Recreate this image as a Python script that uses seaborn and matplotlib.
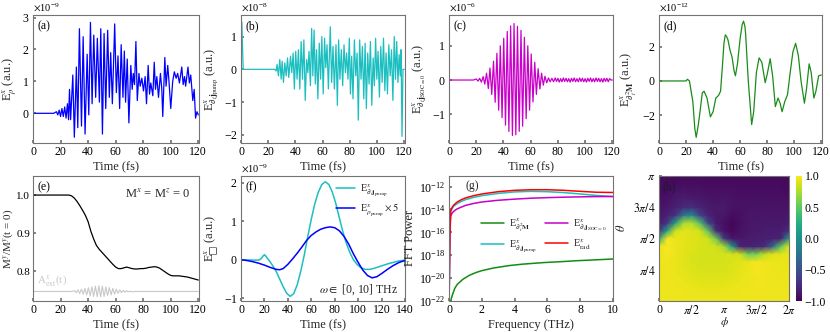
import numpy as np
import matplotlib
matplotlib.use("Agg")
import matplotlib.pyplot as plt
from matplotlib.ticker import NullLocator, FixedLocator
import seaborn as sns

# ---------------- data ----------------
# (a) E_rho^x  (units 1e-9)
a_time = [0, 15, 17, 18, 19, 20, 21, 22, 23, 24, 25, 25.8, 26.5, 27.3, 28.9, 30.0, 31.5, 32.5, 33.7, 35.2,
          36.4, 37.8, 39.3, 40.5, 41.7, 42.9, 44.1, 45.5, 46.7, 48.2, 49.2, 50.4, 51.6, 52.8, 54.2, 55.4, 56.4, 57.6, 59.3, 60.5,
          61.7, 62.9, 64.0, 65.3, 66.3, 67.2, 68.4, 69.6, 71.0, 72.0, 72.8, 73.7, 74.7, 75.7, 76.9, 77.8, 79.0, 80.2, 81.4, 82.4,
          83.6, 84.6, 85.5, 87.0, 88.0, 88.9, 89.9, 91.1, 92.5, 93.5, 94.2, 95.7, 96.6, 97.8, 98.8, 100.0, 101.4, 102.6, 103.9, 105.0,
          106.3, 108.0, 109.0, 110.0, 110.8, 112.5, 113.5, 114.5, 116.0, 117.0, 118.0, 119.0, 120.0]
a_val = [0, 0, 0.05, -0.05, 0.1, -0.1, 0.15, -0.1, 0.2, -0.15, 0.3, -0.2, 0.75, -0.2, 1.2, -0.75, 1.45, -0.45, 2.65, -0.4,
         2.4, -0.65, 1.85, -0.05, 2.85, 0.3, 2.45, 0.5, 2.35, 0.35, 2.65, -0.65, 2.5, 0.15, 2.6, 0.5, 1.9, 0.3, 2.8, 0.65,
         1.8, 0.15, 2.15, 0.5, 1.95, 0.35, 1.7, -0.3, 1.5, 0.75, 1.25, 0.9, 2.25, 0.4, 1.25, 0.85, 1.1, 0.7, 1.15, 0.3,
         1.5, 0.6, 0.95, 0.55, 1.6, 0.75, 1.15, 0.5, 1.25, 0.75, -0.1, 1.75, 0.85, 1.5, 0.95, 0.15, 1.0, 1.3, 1.1, 1.25,
         0.95, 1.45, 0.9, 1.15, 0.85, 1.45, 0.95, 1.2, 0.4, 0.75, -0.15, 0.05, -0.05]
a_scale = 1e-9

# (b) E_{dt j_pump}^x (units 1e-8)
b_time = [0, 0.6, 1.6, 25.0, 25.8, 26.5, 27.5, 28.5, 29.5, 30.2, 31.2, 32.2, 33.2, 34.2, 35.1, 36.4, 37.3, 38.3, 39.2, 40.2,
          41.2, 42.2, 43.2, 44.2, 45.2, 46.2, 47.2, 48.2, 49.1, 50.0, 51.0, 51.9, 52.8, 53.7, 54.6, 55.5, 56.5, 57.5, 58.5, 59.4,
          60.4, 61.4, 62.3, 63.2, 64.2, 65.6, 66.6, 67.6, 68.6, 69.8, 70.8, 71.7, 72.7, 73.7, 74.7, 75.7, 76.7, 77.6, 78.6, 79.6,
          80.4, 81.3, 82.3, 83.3, 84.3, 85.3, 86.2, 87.2, 88.2, 89.2, 90.2, 91.2, 92.1, 93.1, 94.1, 95.1, 96.1, 97.1, 98.0, 98.9,
          99.8, 100.7, 101.7, 102.7, 103.7, 104.7, 105.7, 106.6, 107.6, 108.6, 109.6, 110.6, 111.6, 112.6, 113.5, 114.4, 115.3, 116.2, 117.0, 117.6,
          118.3, 119.0, 120.0]
b_val = [0.3, 1.45, 0.0, 0.0, -0.05, 0.15, -0.2, 0.3, -0.3, 0.25, -0.4, 0.2, -0.2, 0.35, -0.25, 0.4, -0.1, 0.5, -0.6, 0.55,
         -0.3, 0.6, -0.6, 0.85, -0.3, 0.9, -0.95, 0.3, -0.1, 0.55, -0.5, 1.25, -0.2, 1.2, -0.45, 0.6, -0.9, 0.8, -0.3, 1.0,
         -0.75, 0.95, 0.05, 0.75, -0.6, 1.3, -0.4, 0.7, -0.6, 0.75, -1.1, 0.9, -0.3, 0.6, -0.5, 0.75, -0.1, 0.5, -0.3, 0.95,
         -0.75, 0.4, -0.9, 0.9, -0.2, 0.5, -1.55, 0.9, -0.3, 0.7, -0.9, 0.8, -1.2, 0.5, -0.45, 0.85, -1.1, 0.35, -0.5, 0.95,
         -0.3, 0.55, -0.85, 0.7, -0.4, 0.95, -0.65, 0.5, -0.75, 0.75, -0.2, 0.6, -0.95, 1.0, -0.3, 0.85, -0.4, 0.45, -0.2, 0.6,
         -2.05, 0.0, 0.0]
b_scale = 1e-8

# (c) E_{dt j_SOC=0}^x (units 1e-6)
c_time = [0, 18, 20.0, 21.3, 22.5, 23.8, 25.1, 26.3, 27.6, 28.9, 30.1, 31.4, 32.7, 33.9, 35.2, 36.5, 37.7, 39.0, 40.2, 41.5,
          42.8, 44.0, 45.3, 46.6, 47.8, 49.1, 50.3, 51.6, 52.9, 54.1, 55.4, 56.7, 57.9, 59.2, 60.4, 61.7, 63.0, 64.2, 65.5, 66.8,
          68.0, 69.3, 70.5, 71.8, 73.1, 74.3, 75.6, 76.8, 78.0, 79, 80, 81, 82, 83, 84, 85, 86, 87, 88, 89,
          90, 91, 92, 93, 94, 95, 96, 97, 98, 99, 100, 101, 102, 103, 104, 105, 106, 107, 108, 109,
          110, 111, 112, 113, 114, 115, 116, 117, 118, 119, 120]
c_val = [0, 0, 0.03, -0.03, 0.05, -0.06, 0.1, -0.12, 0.2, -0.25, 0.35, -0.42, 0.55, -0.65, 0.78, -0.88, 1.0, -1.1, 1.22, -1.32,
         1.42, -1.5, 1.58, -1.62, 1.65, -1.6, 1.57, -1.5, 1.45, -1.35, 1.25, -1.13, 1.0, -0.88, 0.76, -0.64, 0.52, -0.42, 0.33, -0.26,
         0.2, -0.15, 0.11, -0.08, 0.06, -0.05, 0.05, -0.05, 0.06, -0.04, 0.05, -0.06, 0.04, -0.05, 0.06, -0.04, 0.05, -0.05, 0.04, -0.06,
         0.05, -0.04, 0.06, -0.05, 0.04, -0.05, 0.06, -0.04, 0.05, -0.05, 0.04, -0.06, 0.05, -0.04, 0.06, -0.05, 0.04, -0.05, 0.06, -0.04,
         0.05, -0.05, 0.04, -0.06, 0.05, -0.04, 0.05, -0.05, 0.04, 0.0, 0.0]
c_scale = 1e-6

# (d) E_{dt^2 M}^x (units 1e-12)
d_time = [0, 20, 21, 22.5, 25, 26.5, 27.5, 29, 30, 32, 33.3, 35.5, 38, 40, 42, 44, 45.5, 47, 48, 49, 50, 51,
          52.5, 54, 55.5, 56.5, 58, 60, 61.5, 62.5, 63.5, 64, 66, 68.5, 70, 72, 74, 76, 78.5, 80, 82.2, 84, 86, 88, 89.5,
          91, 93, 95, 97, 99, 101, 103, 105, 107.5, 109, 111, 112.5, 114.5, 116, 118, 120]
d_val = [0, 0, 0.1, 0.0, -1.2, -2.8, -3.3, -2.6, -2.0, -0.7, -0.6, -1.0, -2.1, -1.8, -1.0, -0.85, -0.6, 1.0, 2.2, 2.7, 2.6, 2.4,
         1.8, 1.4, 0.6, 0.3, 1.0, 2.5, 3.3, 3.5, 3.2, 2.8, 0.0, -2.55, -1.8, 0.5, 1.35, 1.1, -0.1, 0.4, 1.3, 0.3, -1.5, -1.0, -1.3,
         -1.8, -1.2, -0.8, 0.5, 1.7, 2.2, 1.5, 0.0, -1.3, -0.5, 1.0, 0.5, -1.0, -0.6, 0.3, 0.35]
d_scale = 1e-12

# (e) M^y / M^y(t=0) and A_ext^x(t) (gray)
e_time = [0, 26, 28, 30, 32, 34, 36, 38, 40, 42, 44, 46, 48, 50, 52, 54, 56, 58, 60, 62,
          64, 66, 68, 70, 72, 74, 76, 78, 80, 82, 84, 86, 88, 90, 92, 94, 96, 98, 100, 102,
          104, 106, 108, 110, 112, 114, 116, 118, 120]
e_val = [1.0, 1.0, 0.998, 0.992, 0.983, 0.972, 0.96, 0.947, 0.93, 0.905, 0.885, 0.868, 0.858, 0.85, 0.842, 0.834, 0.826, 0.818, 0.811, 0.807,
         0.807, 0.809, 0.811, 0.809, 0.807, 0.806, 0.806, 0.807, 0.807, 0.808, 0.81, 0.811, 0.812, 0.811, 0.808, 0.803, 0.798, 0.793, 0.789, 0.788,
         0.788, 0.788, 0.787, 0.786, 0.785, 0.783, 0.781, 0.779, 0.777]
aext_time = [0, 28, 30.1, 31.4, 32.7, 33.9, 35.2, 36.5, 37.7, 39.0, 40.2, 41.5, 42.8, 44.0, 45.3, 46.6, 47.8, 49.1, 50.3, 51.6,
             52.9, 54.1, 55.4, 56.7, 57.9, 59.2, 60.4, 61.7, 63.0, 64.2, 65.5, 66.8, 68.0, 69.3, 70.5, 71.8, 74, 120]
aext_val = [0.747, 0.747, 0.749, 0.744, 0.751, 0.742, 0.753, 0.740, 0.755, 0.738, 0.757, 0.736, 0.759, 0.734, 0.761, 0.733, 0.762, 0.733, 0.761, 0.734,
            0.759, 0.736, 0.757, 0.738, 0.755, 0.740, 0.753, 0.742, 0.751, 0.744, 0.750, 0.745, 0.749, 0.746, 0.748, 0.746, 0.747, 0.747]

# (f) filtered fields (units 1e-9)
f_time_c = [0, 5, 10, 15, 17, 19, 20, 21, 23, 25, 28, 30, 33, 36, 39, 42, 45, 48, 51, 54,
            57, 60, 63, 66, 69, 72, 75, 78, 81, 84, 87, 90, 93, 96, 99, 102, 106, 110, 114, 118,
            122, 126, 130, 135, 140]
f_val_c = [0.0, -0.005, -0.01, -0.01, 0.02, 0.1, 0.13, 0.1, 0.02, -0.06, -0.2, -0.3, -0.5, -0.7, -0.87, -0.95, -0.88, -0.65, -0.3, 0.12,
           0.6, 1.05, 1.45, 1.75, 1.95, 2.02, 1.95, 1.75, 1.45, 1.08, 0.72, 0.42, 0.18, 0.0, -0.12, -0.2, -0.25, -0.25, -0.22, -0.18,
           -0.14, -0.1, -0.07, -0.03, -0.01]
f_time_b = [0, 5, 10, 15, 20, 25, 30, 33, 36, 40, 44, 48, 52, 56, 60, 64, 68, 72, 76, 80,
            84, 88, 92, 96, 100, 104, 108, 112, 116, 120, 125, 130, 135, 140]
f_val_b = [0.0, -0.02, -0.05, -0.09, -0.14, -0.2, -0.25, -0.26, -0.23, -0.12, 0.02, 0.17, 0.33, 0.5, 0.63, 0.72, 0.79, 0.83, 0.85, 0.83,
           0.75, 0.6, 0.4, 0.15, -0.07, -0.27, -0.41, -0.47, -0.44, -0.36, -0.25, -0.15, -0.07, -0.02]
f_scale = 1e-9

# (g) FFT power, log10 values
g_freq = [0, 0.05, 0.1, 0.2, 0.3, 0.5, 0.75, 1, 1.5, 2, 3, 4, 5, 6, 7, 8, 9, 10]
g_rad = [-23, -16.0, -14.1, -13.8, -13.6, -13.35, -13.15, -13.0, -12.8, -12.65, -12.45, -12.33, -12.28, -12.28, -12.33, -12.42, -12.5, -12.52]
g_pump = [-23, -16.2, -14.2, -13.9, -13.7, -13.5, -13.3, -13.15, -12.95, -12.8, -12.6, -12.47, -12.42, -12.45, -12.53, -12.65, -12.78, -12.88]
g_soc = [-23, -16.5, -14.6, -14.3, -14.15, -13.95, -13.8, -13.65, -13.48, -13.35, -13.2, -13.1, -13.02, -12.97, -12.93, -12.9, -12.88, -12.87]
g_freq_m = [0, 0.1, 0.2, 0.35, 0.5, 0.85, 1.25, 1.67, 2, 2.7, 3.7, 4.5, 5.7, 7, 7.8, 9, 10]
g_m = [-23, -22.0, -21.5, -20.9, -20.55, -20.1, -19.75, -19.5, -19.35, -19.12, -18.9, -18.78, -18.65, -18.55, -18.48, -18.4, -18.33]

# (h) map: columns at phi = k*pi/8 (k=0..16), rows at theta = j*pi/16 (j=0..16)
h_phi_eighths = list(range(17))
h_theta_sixteenths = list(range(17))
h_cols = [
    [0.95, 0.95, 0.95, 0.94, 0.93, 0.93, 0.93, 0.95, 0.2, -0.7, -0.85, -0.88, -0.9, -0.92, -0.94, -0.95, -0.95],
    [0.95, 0.95, 0.95, 0.95, 0.95, 0.96, 0.97, 0.98, 0.97, 0.15, -0.7, -0.82, -0.87, -0.9, -0.93, -0.95, -0.95],
    [0.95, 0.95, 0.95, 0.94, 0.93, 0.93, 0.94, 0.95, 0.94, 0.85, 0.12, -0.72, -0.82, -0.86, -0.9, -0.94, -0.95],
    [0.95, 0.95, 0.94, 0.93, 0.92, 0.91, 0.91, 0.92, 0.92, 0.92, 0.72, -0.2, -0.76, -0.83, -0.88, -0.93, -0.95],
    [0.95, 0.94, 0.93, 0.91, 0.9, 0.89, 0.89, 0.9, 0.9, 0.9, 0.78, -0.05, -0.72, -0.84, -0.9, -0.93, -0.95],
    [0.95, 0.94, 0.92, 0.9, 0.88, 0.87, 0.87, 0.88, 0.89, 0.87, 0.45, -0.6, -0.8, -0.86, -0.9, -0.93, -0.95],
    [0.95, 0.94, 0.92, 0.9, 0.88, 0.87, 0.87, 0.87, 0.86, 0.5, -0.55, -0.8, -0.85, -0.88, -0.92, -0.94, -0.95],
    [0.95, 0.94, 0.92, 0.9, 0.88, 0.87, 0.87, 0.86, 0.55, -0.72, -0.85, -0.87, -0.87, -0.9, -0.92, -0.94, -0.95],
    [0.95, 0.94, 0.92, 0.9, 0.88, 0.87, 0.87, 0.72, -0.65, -0.9, -0.92, -0.88, -0.86, -0.88, -0.92, -0.94, -0.95],
    [0.95, 0.94, 0.93, 0.91, 0.9, 0.89, 0.88, 0.05, -0.88, -0.96, -0.97, -0.93, -0.9, -0.9, -0.92, -0.94, -0.95],
    [0.95, 0.95, 0.94, 0.93, 0.92, 0.91, 0.85, -0.8, -0.88, -0.9, -0.92, -0.92, -0.91, -0.91, -0.93, -0.94, -0.95],
    [0.95, 0.95, 0.95, 0.94, 0.94, 0.94, 0.55, -0.82, -0.85, -0.87, -0.88, -0.89, -0.9, -0.91, -0.93, -0.94, -0.95],
    [0.95, 0.95, 0.96, 0.96, 0.97, 0.97, 0.6, -0.8, -0.84, -0.86, -0.88, -0.89, -0.9, -0.91, -0.93, -0.94, -0.95],
    [0.95, 0.95, 0.96, 0.96, 0.96, 0.96, 0.8, -0.75, -0.83, -0.85, -0.87, -0.89, -0.9, -0.91, -0.93, -0.94, -0.95],
    [0.95, 0.95, 0.95, 0.95, 0.95, 0.94, 0.9, -0.35, -0.82, -0.85, -0.87, -0.89, -0.9, -0.91, -0.93, -0.94, -0.95],
    [0.95, 0.95, 0.95, 0.94, 0.94, 0.93, 0.92, 0.5, -0.8, -0.85, -0.87, -0.89, -0.9, -0.92, -0.93, -0.94, -0.95],
    [0.95, 0.95, 0.95, 0.94, 0.93, 0.93, 0.93, 0.92, 0.15, -0.72, -0.85, -0.88, -0.9, -0.92, -0.94, -0.95, -0.95],
]

for xs, ys in [(a_time, a_val), (b_time, b_val), (c_time, c_val), (d_time, d_val), (e_time, e_val),
               (aext_time, aext_val), (f_time_c, f_val_c), (f_time_b, f_val_b), (g_freq_m, g_m)]:
    assert len(xs) == len(ys), (len(xs), len(ys))

# ---------------- style ----------------
sns.set_theme(style="ticks")
plt.rcParams.update({
    "font.family": ["Liberation Serif", "DejaVu Serif"],
    "mathtext.fontset": "stix",
    "font.size": 8.5,
    "axes.labelsize": 9,
    "xtick.labelsize": 8.5,
    "ytick.labelsize": 8.5,
    "xtick.direction": "in",
    "ytick.direction": "in",
    "xtick.major.size": 2.5,
    "ytick.major.size": 2.5,
    "xtick.major.pad": 2.5,
    "ytick.major.pad": 2.5,
    "axes.edgecolor": "0.45",
    "axes.linewidth": 0.8,
    "xtick.color": "0.45",
    "ytick.color": "0.45",
    "xtick.labelcolor": "black",
    "ytick.labelcolor": "black",
    "axes.labelpad": 2,
})

W, H = 830, 332
fig = plt.figure(figsize=(W / 100, H / 100), dpi=100)


def add_ax(x0, x1, ytop, ybot):
    return fig.add_axes([x0 / W, 1 - ybot / H, (x1 - x0) / W, (ybot - ytop) / H])


def line(ax, x, y, color, lw=0.9, label=None):
    sns.lineplot(x=np.asarray(x, float), y=np.asarray(y, float), ax=ax, color=color, lw=lw,
                 estimator=None, sort=False, label=label, legend=False)


def panel_label(ax, s, color="black"):
    ax.text(0.03, 0.96, s, transform=ax.transAxes, ha="left", va="top", fontsize=8.5, color=color)


def sci(ax):
    ax.ticklabel_format(axis="y", style="sci", scilimits=(0, 0), useMathText=True)
    ax.yaxis.get_offset_text().set_fontsize(7.5)


TOP = (15, 143)
BOT = (176, 301)

# (a)
ax = add_ax(33, 199, *TOP)
line(ax, a_time, np.array(a_val) * a_scale, "#0000ff")
ax.set_xlim(0, 120.5)
ax.set_ylim(-0.93e-9, 3.08e-9)
ax.set_xticks(range(0, 121, 20))
ax.set_yticks([0, 1e-9, 2e-9, 3e-9])
sci(ax)
ax.set_xlabel("Time (fs)")
ax.set_ylabel(r"E$^x_\rho$ (a.u.)")
panel_label(ax, "(a)")

# (b)
ax = add_ax(241, 405, *TOP)
line(ax, b_time, np.array(b_val) * b_scale, "#1cbfc0")
ax.set_xlim(0, 120.5)
ax.set_ylim(-2.25e-8, 1.66e-8)
ax.set_xticks(range(0, 121, 20))
ax.set_yticks([-2e-8, -1e-8, 0, 1e-8])
sci(ax)
ax.set_xlabel("Time (fs)")
ax.set_ylabel(r"E$^x_{\partial_t\mathbf{j}_{\rm pump}}$ (a.u.)")
panel_label(ax, "(b)")

# (c)
ax = add_ax(449, 613, *TOP)
line(ax, c_time, np.array(c_val) * c_scale, "#c800c8")
ax.set_xlim(0, 120.5)
ax.set_ylim(-1.84e-6, 1.9e-6)
ax.set_xticks(range(0, 121, 20))
ax.set_yticks([-1e-6, 0, 1e-6])
sci(ax)
ax.set_xlabel("Time (fs)")
ax.set_ylabel(r"E$^x_{\partial_t\mathbf{j}_{\rm SOC=0}}$ (a.u.)")
panel_label(ax, "(c)")

# (d)
ax = add_ax(659, 822, *TOP)
line(ax, d_time, np.array(d_val) * d_scale, "#1a8c1a")
ax.set_xlim(0, 120.5)
ax.set_ylim(-3.63e-12, 3.86e-12)
ax.set_xticks(range(0, 121, 20))
ax.set_yticks([-2e-12, 0, 2e-12])
sci(ax)
ax.set_xlabel("Time (fs)")
ax.set_ylabel(r"E$^x_{\partial_t^2\mathbf{M}}$ (a.u.)")
panel_label(ax, "(d)")

# (e)
ax = add_ax(33, 199, *BOT)
line(ax, aext_time, aext_val, "#c8c8c8", lw=0.8)
line(ax, e_time, e_val, "black", lw=0.9)
ax.set_xlim(0, 120.5)
ax.set_ylim(0.722, 1.05)
ax.set_xticks(range(0, 121, 20))
ax.set_yticks([0.8, 0.9, 1.0])
ax.set_yticklabels(["0.8", "0.9", "1.0"])
ax.tick_params(axis="y", labelsize=8, pad=2)
ax.set_xlabel("Time (fs)")
ax.set_ylabel(r"M$^y$/M$^y$(t = 0)", fontsize=8)
ax.yaxis.set_label_coords(-0.108, 0.5)
ax.text(3, 0.757, r"A$^x_{\rm ext}$(t)", color="#c8c8c8", fontsize=8, ha="left", va="bottom")
ax.text(0.95, 0.86, r"M$^x$ = M$^z$ = 0", transform=ax.transAxes, ha="right", va="center", fontsize=9)
panel_label(ax, "(e)")

# (f)
ax = add_ax(241, 405, *BOT)
line(ax, f_time_c, np.array(f_val_c) * f_scale, "#1cbfc0", lw=1.1,
     label=r"E$^x_{\partial_t\mathbf{j}_{\rm pump}}$")
line(ax, f_time_b, np.array(f_val_b) * f_scale, "#0000ff", lw=1.1,
     label=r"E$^x_{\rho_{\rm pump}}\times 5$")
ax.set_xlim(0, 140)
ax.set_ylim(-1.07e-9, 2.17e-9)
ax.set_xticks(range(0, 141, 20))
ax.set_yticks([-1e-9, 0, 1e-9, 2e-9])
sci(ax)
ax.set_xlabel("Time (fs)")
ax.set_ylabel("E$^x_{\u25a1}$ (a.u.)")
ax.legend(loc="upper right", frameon=False, fontsize=7.5, handlelength=1.8, borderaxespad=0.2,
          labelspacing=0.3, handletextpad=0.5)
ax.text(0.96, 0.09, r"$\omega \in$ [0, 10] THz", transform=ax.transAxes, ha="right", va="center", fontsize=8.5)
panel_label(ax, "(f)")

# (g)
ax = add_ax(449, 613, *BOT)
line(ax, g_freq_m, 10.0 ** np.array(g_m), "#128c12", lw=1.1, label=r"E$^x_{\partial_t^2\mathbf{M}}$")
line(ax, g_freq, 10.0 ** np.array(g_pump), "#1cbfc0", lw=1.1, label=r"E$^x_{\partial_t\mathbf{j}_{\rm pump}}$")
line(ax, g_freq, 10.0 ** np.array(g_soc), "#c800c8", lw=1.1, label=r"E$^x_{\partial_t\mathbf{j}_{\rm SOC=0}}$")
line(ax, g_freq, 10.0 ** np.array(g_rad), "#ff0000", lw=1.1, label=r"E$^x_{\rm rad}$")
ax.set_yscale("log")
ax.set_xlim(0, 10)
ax.set_ylim(1e-22, 10 ** -11.08)
ax.set_xticks(range(0, 11, 2))
ax.yaxis.set_major_locator(FixedLocator([10.0 ** k for k in range(-22, -11, 2)]))
ax.yaxis.set_minor_locator(NullLocator())
ax.set_xlabel("Frequency (THz)")
ax.set_ylabel("FFT Power")
ax.legend(loc="center", bbox_to_anchor=(0.58, 0.52), ncol=2, frameon=False, fontsize=7.5,
          handlelength=2.2, columnspacing=0.8, labelspacing=0.4, handletextpad=0.5)
ax.text(0.1, 0.97, "(g)", transform=ax.transAxes, ha="left", va="top", fontsize=8.5)

# (h)
ax = add_ax(659, 789, *BOT)
phi = np.array(h_phi_eighths) * np.pi / 8
theta = np.array(h_theta_sixteenths) * np.pi / 16
Z = np.array(h_cols).T
mesh = ax.pcolormesh(phi, theta, Z, shading="gouraud", cmap="viridis", vmin=-1, vmax=1, rasterized=True)
ax.set_xlim(0, 2 * np.pi)
ax.set_ylim(0, np.pi)
ax.set_xticks([0, np.pi / 2, np.pi, 3 * np.pi / 2, 2 * np.pi])
ax.set_xticklabels(["0", r"$\pi/2$", r"$\pi$", r"$3\pi/2$", r"$2\pi$"])
ax.set_yticks([np.pi / 4, np.pi / 2, 3 * np.pi / 4, np.pi])
ax.set_yticklabels([r"$\pi/4$", r"$\pi/2$", r"$3\pi/4$", r"$\pi$"])
ax.set_xlabel(r"$\phi$", labelpad=0, fontsize=8.5)
ax.xaxis.set_label_coords(0.5, -0.112)
ax.set_ylabel(r"$\theta$")
ax.yaxis.set_label_coords(-0.235, 0.585)
ax.text(0.03, 0.96, "(h)", transform=ax.transAxes, ha="left", va="top", fontsize=8.5, color="#1a1a2a")
cax = add_ax(796, 802, *BOT)
cb = fig.colorbar(mesh, cax=cax, ticks=[-1, -0.5, 0, 0.5, 1])
cb.outline.set_visible(False)
cb.ax.set_yticklabels(["\u22121.0", "\u22120.5", "0.0", "0.5", "1.0"])
cb.ax.tick_params(length=0, labelsize=8.5, pad=2)

fig.savefig("out.png", dpi=100)
